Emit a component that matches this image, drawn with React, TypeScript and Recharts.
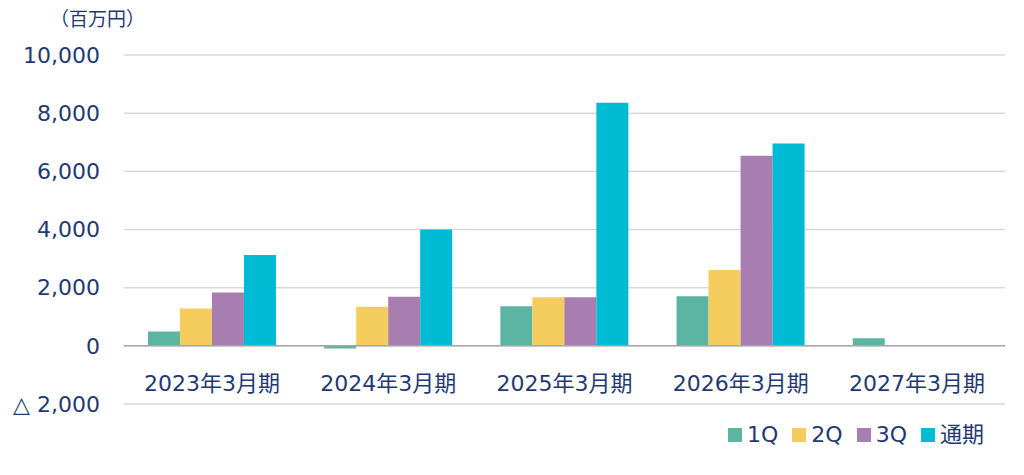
import React from "react";
import { BarChart, Bar, XAxis, YAxis, CartesianGrid, ReferenceLine, Legend } from "recharts";

const categories = ["2023年3月期", "2024年3月期", "2025年3月期", "2026年3月期", "2027年3月期"];
const q1 = [490, -90, 1360, 1705, 265];
const q2 = [1280, 1340, 1670, 2607, null];
const q3 = [1830, 1690, 1670, 6540, null];
const full = [3120, 4000, 8360, 6953, null];
const yTicks = [-2000, 0, 2000, 4000, 6000, 8000, 10000];

const seriesNames = ["1Q", "2Q", "3Q", "通期"];
const seriesKeys = ["q1", "q2", "q3", "full"];
const colors = ["#5BB5A2", "#F5CD5F", "#A87EB1", "#00BBD3"];

const data = categories.map((c, i) => ({ name: c, q1: q1[i], q2: q2[i], q3: q3[i], full: full[i] }));

const TEXT = "#1F3A73";
const FONT = "'DejaVu Sans', 'Noto Sans CJK JP', sans-serif";

const fmtY = (v: number) => {
  const s = Math.abs(v).toLocaleString("en-US");
  return v < 0 ? `△ ${s}` : s;
};

const XTick = (props: any) => {
  const { x, y, payload } = props;
  return (
    <text x={x} y={y - 21} textAnchor="middle" dominantBaseline="central" fill={TEXT} fontSize={22} fontFamily={FONT}>
      {payload.value}
    </text>
  );
};

const LegendContent = (props: any) => {
  const { payload } = props;
  return (
    <div style={{ display: "flex", alignItems: "center", fontFamily: FONT, fontSize: 22, color: TEXT, whiteSpace: "nowrap" }}>
      {(payload || []).map((p: any, i: number) => (
        <div key={i} style={{ display: "flex", alignItems: "center", marginRight: i < 3 ? 14 : 0 }}>
          <span style={{ display: "inline-block", width: 14, height: 14, background: p.color, marginRight: 5 }} />
          <span style={{ lineHeight: "22px" }}>{p.value}</span>
        </div>
      ))}
    </div>
  );
};

export default function App() {
  return (
    <div style={{ position: "absolute", left: 0, top: 0, width: 1024, height: 475, background: "#fff" }}>
      <div style={{ position: "absolute", left: 50, top: 6, fontFamily: FONT, fontSize: 19, color: TEXT, lineHeight: "26px", whiteSpace: "nowrap" }}>
        （百万円）
      </div>
      <BarChart
        width={1024}
        height={475}
        data={data}
        margin={{ top: 55, right: 19, bottom: 41, left: 0 }}
        barCategoryGap="13.6%"
        barGap={0}
      >
        <CartesianGrid horizontal vertical={false} stroke="#D9D9D9" strokeWidth={1.5} />
        <XAxis
          dataKey="name"
          axisLine={false}
          tickLine={false}
          tickSize={0}
          tickMargin={0}
          tick={<XTick />}
          interval={0}
          height={30}
        />
        <YAxis
          domain={[-2000, 10000]}
          ticks={yTicks}
          width={124}
          axisLine={false}
          tickLine={false}
          tickSize={0}
          tickMargin={24}
          tickFormatter={fmtY}
          tick={{ fill: TEXT, fontSize: 22, fontFamily: FONT }}
          interval={0}
        />
        <ReferenceLine y={0} stroke="#A6A6A6" strokeWidth={1.5} />
        {seriesKeys.map((k, i) => (
          <Bar key={k} dataKey={k} name={seriesNames[i]} fill={colors[i]} isAnimationActive={false} />
        ))}
        <Legend
          layout="horizontal"
          verticalAlign="middle"
          align="center"
          content={<LegendContent />}
          wrapperStyle={{ position: "absolute", left: 728, top: 424, width: "auto", height: "auto" }}
        />
      </BarChart>
    </div>
  );
}
